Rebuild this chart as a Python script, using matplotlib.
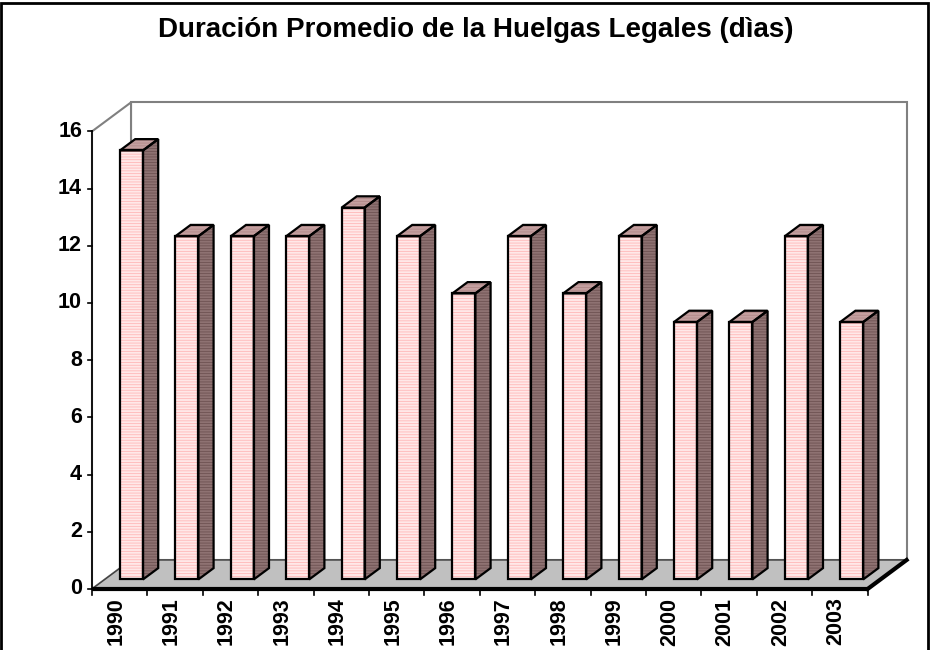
import matplotlib
matplotlib.use("Agg")
import matplotlib.pyplot as plt
from matplotlib.patches import Polygon, Rectangle

plt.rcParams['font.family'] = ['Liberation Sans', 'DejaVu Sans']
plt.rcParams['hatch.linewidth'] = 0.6

# Datos
anios = ['1990', '1991', '1992', '1993', '1994', '1995', '1996',
         '1997', '1998', '1999', '2000', '2001', '2002', '2003']
dias = [15, 12, 12, 12, 13, 12, 10, 12, 10, 12, 9, 9, 12, 9]
y_ticks = [0, 2, 4, 6, 8, 10, 12, 14, 16]
titulo = 'Duración Promedio de la Huelgas Legales (dìas)'

# Geometria del grafico 3D (unidades: categoria en x, valor en y)
n = len(anios)
ymax = 16
DX, DY = 0.704, 1.014          # desplazamiento de profundidad (pared trasera)
d0, d1 = 0.33, 0.72            # profundidad de las barras
bx, bw = 0.273, 0.415          # posicion y ancho de la barra en cada categoria

fig = plt.figure(figsize=(9.3, 6.5), dpi=100)
ax = fig.add_axes([0, 0, 1, 1])
ax.set_xlim(-92 / 55.4, (930 - 92) / 55.4)
ax.set_ylim((589 - 650) / 28.6, 589 / 28.6)
ax.axis('off')

grey = '#808080'

def off(x, y, d):
    return (x + d * DX, y + d * DY)

# pared trasera
ax.add_patch(Polygon([off(0, 0, 1), off(n, 0, 1), off(n, ymax, 1), off(0, ymax, 1)],
                     closed=True, facecolor='white', edgecolor=grey, lw=1.5, zorder=1))
# pared izquierda
ax.add_patch(Polygon([(0, 0), (0, ymax), off(0, ymax, 1), off(0, 0, 1)],
                     closed=True, facecolor='white', edgecolor=grey, lw=1.5, zorder=1))
# piso
ax.add_patch(Polygon([(0, 0), (n, 0), off(n, 0, 1), off(0, 0, 1)],
                     closed=True, facecolor='#C0C0C0', edgecolor='#404040', lw=1.0, zorder=2))
ax.plot([0, n], [0, 0], color='black', lw=3, solid_capstyle='butt', zorder=3)
ax.plot([n, off(n, 0, 1)[0]], [0, off(n, 0, 1)[1]], color='black', lw=3, zorder=3)

# eje y
ax.plot([0, 0], [0, ymax], color='black', lw=1.2, zorder=3)
for t in y_ticks:
    ax.plot([-0.07, 0], [t, t], color='black', lw=1.2, zorder=3)
    ax.text(-0.18, t, str(t), ha='right', va='center', fontsize=15.5,
            fontweight='bold', zorder=3)

# eje x
for i in range(n + 1):
    ax.plot([i, i], [0, -0.22], color='black', lw=1.2, zorder=3)
for i, a in enumerate(anios):
    ax.text(i + 0.43, -0.3, a, ha='center', va='top', rotation=90,
            fontsize=15.5, fontweight='bold', zorder=3)

# barras
for i, v in enumerate(dias):
    x0, x1 = i + bx, i + bx + bw
    front = [off(x0, 0, d0), off(x1, 0, d0), off(x1, v, d0), off(x0, v, d0)]
    side = [off(x1, 0, d0), off(x1, 0, d1), off(x1, v, d1), off(x1, v, d0)]
    top = [off(x0, v, d0), off(x1, v, d0), off(x1, v, d1), off(x0, v, d1)]
    z = 5
    ax.add_patch(Polygon(side, closed=True, facecolor='#8E7272', edgecolor='#6E5252',
                         hatch='------', lw=0, zorder=z))
    ax.add_patch(Polygon(side, closed=True, fill=False, edgecolor='black', lw=1.6, zorder=z + 1))
    ax.add_patch(Polygon(top, closed=True, facecolor='#C4A0A0', edgecolor='#B08888',
                         hatch='------', lw=0, zorder=z))
    ax.add_patch(Polygon(top, closed=True, fill=False, edgecolor='black', lw=1.6, zorder=z + 1))
    ax.add_patch(Polygon(front, closed=True, facecolor='#FFE8E8', edgecolor='#FFB8B8',
                         hatch='------', lw=0, zorder=z))
    ax.add_patch(Polygon(front, closed=True, fill=False, edgecolor='black', lw=1.6, zorder=z + 1))

# titulo
fig.text(0.512, 0.943, titulo, ha='center', va='baseline', fontsize=20, fontweight='bold')

# marco
fig.add_artist(Rectangle((0.001, -0.1), 0.997, 1.0955, transform=fig.transFigure,
                         fill=False, edgecolor='black', lw=2))

fig.savefig('out.png', dpi=100)
